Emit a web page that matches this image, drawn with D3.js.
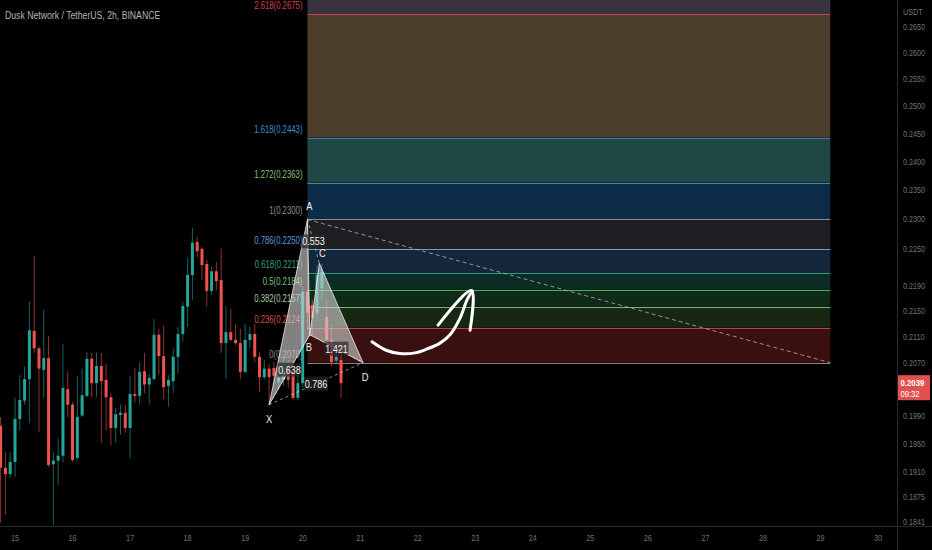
<!DOCTYPE html>
<html><head><meta charset="utf-8">
<script src="https://cdn.jsdelivr.net/npm/d3@7"></script>
<style>html,body{margin:0;padding:0;background:#000;overflow:hidden}</style>
</head><body>
<svg id="c" width="932" height="550"></svg>
<script>
// ---------------- DATA ----------------
const title = "Dusk Network / TetherUS, 2h, BINANCE";
const currencyLabel = "USDT";
const candleStartDay = 14.75;
const candleStepDays = 2 / 24;
// [open, high, low, close]
const ohlc = [
  [0.1976,0.1989,0.1840,0.1916],[0.1916,0.1938,0.1851,0.1907],[0.1907,0.1938,0.1902,0.1924],[0.1924,0.2017,0.1903,0.1986],
  [0.1986,0.2051,0.1969,0.2014],[0.2013,0.2064,0.2007,0.2045],[0.2045,0.2165,0.1980,0.2120],[0.2119,0.2239,0.2085,0.2092],
  [0.2092,0.2095,0.1967,0.2061],[0.2059,0.2152,0.2017,0.2077],[0.2077,0.2111,0.1917,0.1920],[0.1921,0.1938,0.1837,0.1926],
  [0.1926,0.1958,0.1892,0.1933],[0.1933,0.2099,0.1924,0.2032],[0.2030,0.2057,0.1989,0.2007],[0.2007,0.2011,0.1924,0.1927],
  [0.1930,0.2050,0.1927,0.1989],[0.1991,0.2061,0.1989,0.2021],[0.2020,0.2086,0.2018,0.2076],[0.2076,0.2085,0.2018,0.2039],
  [0.2039,0.2085,0.2018,0.2065],[0.2065,0.2085,0.1951,0.2042],[0.2044,0.2068,0.1969,0.2018],[0.2018,0.2024,0.1948,0.1973],
  [0.1973,0.2002,0.1951,0.1993],[0.1992,0.2007,0.1963,0.1995],[0.1995,0.2007,0.1966,0.1973],[0.1973,0.2050,0.1930,0.2023],
  [0.2023,0.2062,0.2010,0.2020],[0.2020,0.2070,0.2007,0.2056],[0.2057,0.2085,0.2024,0.2037],[0.2037,0.2053,0.2007,0.2047],
  [0.2045,0.2138,0.2044,0.2113],[0.2113,0.2122,0.2051,0.2080],[0.2080,0.2127,0.2015,0.2033],[0.2035,0.2051,0.2004,0.2044],
  [0.2042,0.2092,0.2024,0.2079],[0.2079,0.2125,0.2054,0.2114],[0.2114,0.2165,0.2103,0.2158],[0.2157,0.2236,0.2125,0.2208],
  [0.2208,0.2286,0.2168,0.2261],[0.2262,0.2271,0.2237,0.2247],[0.2251,0.2254,0.2200,0.2224],[0.2226,0.2233,0.2157,0.2182],
  [0.2182,0.2221,0.2176,0.2214],[0.2214,0.2229,0.2184,0.2198],[0.2200,0.2251,0.2085,0.2100],[0.2100,0.2158,0.2045,0.2117],
  [0.2117,0.2154,0.2103,0.2105],[0.2105,0.2130,0.2097,0.2100],[0.2100,0.2122,0.2045,0.2056],[0.2056,0.2130,0.2054,0.2105],
  [0.2105,0.2125,0.2092,0.2114],[0.2114,0.2130,0.2071,0.2079],[0.2079,0.2086,0.2026,0.2048],[0.2048,0.2074,0.2044,0.2061],
  [0.2061,0.2068,0.2007,0.2048],[0.2062,0.2071,0.2036,0.2050],[0.2041,0.2056,0.2029,0.2047],[0.2044,0.2077,0.2035,0.2059],
  [0.2062,0.2074,0.2032,0.2044],[0.2059,0.2067,0.2014,0.2017],[0.2017,0.2062,0.2014,0.2039],[0.2039,0.2190,0.2032,0.2181],
  [0.2181,0.2303,0.2120,0.2147],[0.2160,0.2168,0.2113,0.2139],[0.2147,0.2224,0.2139,0.2208],[0.2187,0.2227,0.2168,0.2213],
  [0.2141,0.2168,0.2097,0.2105],[0.2105,0.2128,0.2064,0.2071],[0.2073,0.2085,0.2068,0.2079],[0.2074,0.2085,0.2017,0.2039]
];
const priceTicks = [0.2650,0.2600,0.2550,0.2500,0.2450,0.2400,0.2350,0.2300,0.2250,0.2190,0.2150,0.2110,0.2070,0.1990,0.1950,0.1910,0.1875,0.1841];
const dayTicks = [15,16,17,18,19,20,21,22,23,24,25,26,27,28,29,30];

const fibLevels = [2.618,1.618,1.272,1,0.786,0.618,0.5,0.382,0.236,0];
const fibPrices = [0.2675,0.2443,0.2363,0.2300,0.2250,0.2211,0.2184,0.2157,0.2124,0.2070];
const fibLabelColors = ["#d9434b","#3f8cd6","#8cc078","#8e8e8e","#5b9bd8","#3f9f73","#7cc17c","#a9c9a2","#dd4a4a","#8a8a8a"];
const fibLineColors  = ["#c9434b","#3f7aa6","#3f8aa0","#8c8c8c","#6b9fd0","#2f9a85","#4caf50","#7fb07f","#b84343","#9a7b7b"];
const fibTopFill = "#38333d";
const fibBandFills = ["#4a3e2b","#1e4745","#0c2b46","#1d1d22","#13263a","#0b2b25","#102a18","#172812","#3a0f0f"];
const fibStartDay = 20.0833, fibEndDay = 29.17;

const patternNames  = ["X","A","B","C","D"];
const patternDays   = [19.4167, 20.0833, 20.125, 20.29, 21.05];
const patternPrices = [0.2007, 0.2300, 0.2113, 0.2227, 0.2070];
const patternRatios = [[0,2,"0.638"],[1,3,"0.553"],[2,4,"1.421"],[0,4,"0.786"]];

const trendLine = [[20.0833,0.2300],[29.17,0.2070]];
const arrowCurve = [[21.205,0.2102],[21.449,0.2089],[21.692,0.2084],[21.953,0.2085],[22.162,0.2091],[22.387,0.2100],[22.561,0.2113],[22.735,0.2139],[22.857,0.2168],[22.944,0.2182]];
const arrowHead = [[22.353,0.2128],[22.935,0.2183],[22.909,0.2120]];
const lastPrice = 0.2039, countdown = "09:32";

// ---------------- LAYOUT ----------------
const W = 932, H = 550, plotRight = 897, plotBottom = 526;
const x = d3.scaleLinear().domain([15, 30]).range([15, 878]);
const y = d3.scaleLog().domain([0.1841, 0.2650]).range([522, 27]);
const up = "#26a69a", down = "#ef5350";
const svg = d3.select("#c");
svg.append("rect").attr("width", W).attr("height", H).attr("fill", "#000");
svg.append("defs").append("clipPath").attr("id","plot").append("rect")
  .attr("x",0).attr("y",0).attr("width",plotRight).attr("height",plotBottom);
const g = svg.append("g").attr("clip-path","url(#plot)");
const font = "'Liberation Sans', Arial, sans-serif";

// narrow text helper (horizontal compression to mimic the narrow UI font)
function txt(parent, tx, ty, str, size, sx, color, anchor = "start", weight = "normal") {
  return parent.append("text")
    .attr("transform", `translate(${tx},${ty}) scale(${sx},1)`)
    .attr("text-anchor", anchor).attr("font-family", font).attr("font-size", size)
    .attr("font-weight", weight).attr("fill", color).text(str);
}

// fib bands
const fx0 = x(fibStartDay), fx1 = x(fibEndDay);
g.append("rect").attr("x",fx0).attr("width",fx1-fx0).attr("y",0).attr("height",y(fibPrices[0])).attr("fill",fibTopFill);
g.selectAll(".band").data(fibBandFills).join("rect")
  .attr("x",fx0).attr("width",fx1-fx0)
  .attr("y",(d,i)=>y(fibPrices[i]))
  .attr("height",(d,i)=>y(fibPrices[i+1])-y(fibPrices[i]))
  .attr("fill",d=>d);
g.selectAll(".fl").data(fibPrices).join("line")
  .attr("x1",fx0).attr("x2",fx1).attr("y1",d=>Math.round(y(d))+0.5).attr("y2",d=>Math.round(y(d))+0.5)
  .attr("stroke",(d,i)=>fibLineColors[i]).attr("stroke-width",1);
fibPrices.forEach((p,i)=>{
  txt(g, fx0-5, y(p)-5, `${fibLevels[i]}(${p.toFixed(4)})`, 10.5, 0.74, fibLabelColors[i], "end");
});

// candles
const cg = g.append("g");
ohlc.forEach((c,i)=>{
  const [o,h,l,cl] = c;
  const cx = x(candleStartDay + i*candleStepDays);
  const col = cl >= o ? up : down;
  cg.append("line").attr("x1",cx).attr("x2",cx).attr("y1",y(h)).attr("y2",y(l))
    .attr("stroke",col).attr("stroke-opacity",0.6).attr("stroke-width",1);
  const yt = y(Math.max(o,cl)), yb = y(Math.min(o,cl));
  cg.append("rect").attr("x",cx-1.5).attr("width",3).attr("y",yt).attr("height",Math.max(1,yb-yt)).attr("fill",col);
});

// trend line (dashed)
g.append("line")
  .attr("x1",x(trendLine[0][0])).attr("y1",y(trendLine[0][1]))
  .attr("x2",x(trendLine[1][0])).attr("y2",y(trendLine[1][1]))
  .attr("stroke","#b8b8b8").attr("stroke-opacity",0.75).attr("stroke-width",1).attr("stroke-dasharray","4,3");

// harmonic pattern
const P = patternDays.map((d,i)=>[x(d), y(patternPrices[i])]);
const tri = (a,b,c)=>`M${P[a]}L${P[b]}L${P[c]}Z`;
g.append("path").attr("d",tri(0,1,2)).attr("fill","rgba(215,215,215,0.6)").attr("stroke","rgba(255,255,255,0.7)").attr("stroke-width",1);
g.append("path").attr("d",tri(2,3,4)).attr("fill","rgba(215,215,215,0.6)").attr("stroke","rgba(255,255,255,0.7)").attr("stroke-width",1);
patternRatios.forEach(([a,b,t])=>{
  g.append("line").attr("x1",P[a][0]).attr("y1",P[a][1]).attr("x2",P[b][0]).attr("y2",P[b][1])
    .attr("stroke","rgba(230,230,230,0.6)").attr("stroke-dasharray","3,3");
});
patternRatios.forEach(([a,b,t])=>{
  const mx = (P[a][0]+P[b][0])/2, my = (P[a][1]+P[b][1])/2;
  g.append("rect").attr("x",mx-12).attr("y",my-7).attr("width",24).attr("height",14).attr("fill","rgba(40,40,40,0.7)");
  txt(g, mx, my+4, t, 11, 0.82, "#f0f0f0", "middle");
});
const letterOffsets = {X:[0,18],A:[2,-9],B:[-1,16],C:[3,-6],D:[2,18]};
patternNames.forEach((n,i)=>{
  txt(g, P[i][0]+letterOffsets[n][0], P[i][1]+letterOffsets[n][1], n, 11, 0.85, "#f0f0f0", "middle");
});

// hand-drawn arrow
const ln = d3.line().x(d=>x(d[0])).y(d=>y(d[1])).curve(d3.curveCatmullRom);
g.append("path").attr("d",ln(arrowCurve)).attr("fill","none").attr("stroke","#fff").attr("stroke-width",3).attr("stroke-linecap","round");
g.append("path").attr("d",ln(arrowHead))
  .attr("fill","none").attr("stroke","#fff").attr("stroke-width",3).attr("stroke-linecap","round").attr("stroke-linejoin","round");

// title
txt(svg, 5, 19, title, 11, 0.79, "#b2b5be");

// axes
svg.append("line").attr("x1",plotRight+0.5).attr("x2",plotRight+0.5).attr("y1",0).attr("y2",H).attr("stroke","#2a2a2e");
svg.append("line").attr("x1",0).attr("x2",W).attr("y1",plotBottom+0.5).attr("y2",plotBottom+0.5).attr("stroke","#2a2a2e");
priceTicks.forEach(p=>txt(svg, 903, y(p)+3, p.toFixed(4), 8.5, 0.85, "#6f727a"));
svg.append("rect").attr("x",898).attr("y",5).attr("width",34).attr("height",14).attr("fill","#000");
txt(svg, 903, 15, currencyLabel, 8.5, 0.85, "#6f727a");
dayTicks.forEach(d=>txt(svg, x(d), 541, String(d), 8.5, 0.85, "#6f727a", "middle"));

// last price label
const ly = y(lastPrice);
svg.append("rect").attr("x",898).attr("y",ly-8).attr("width",32).attr("height",25).attr("fill","#e0504e");
txt(svg, 900.5, ly+3, lastPrice.toFixed(4), 9.5, 0.82, "#fff", "start", "bold");
txt(svg, 900.5, ly+14, countdown, 9, 0.85, "#fff");
</script>
</body></html>
